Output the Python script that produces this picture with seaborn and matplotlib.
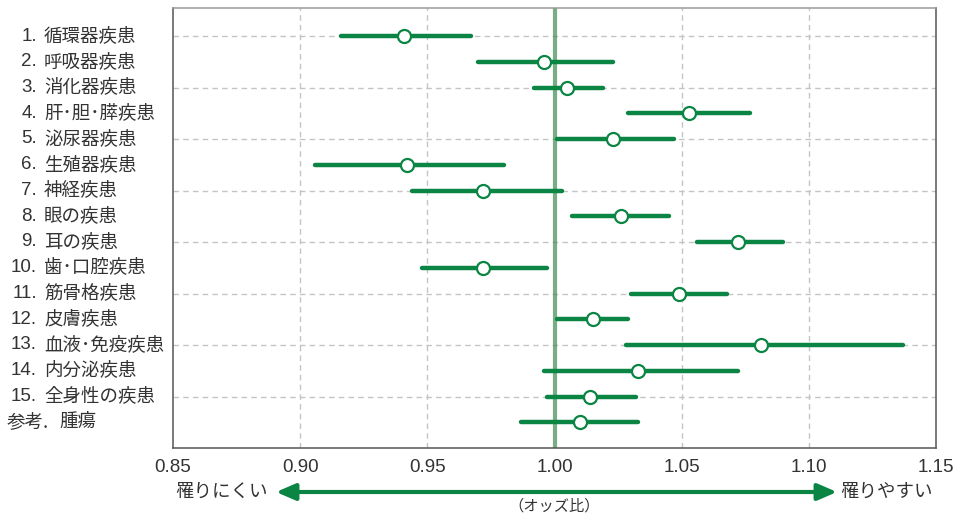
import numpy as np
import pandas as pd
import seaborn as sns
import matplotlib.pyplot as plt

# データ
numbers = ['1.', '2.', '3.', '4.', '5.', '6.', '7.', '8.', '9.', '10.',
           '11.', '12.', '13.', '14.', '15.', '参考.']
diseases = ['循環器疾患', '呼吸器疾患', '消化器疾患', '肝･胆･膵疾患', '泌尿器疾患',
            '生殖器疾患', '神経疾患', '眼の疾患', '耳の疾患', '歯･口腔疾患',
            '筋骨格疾患', '皮膚疾患', '血液･免疫疾患', '内分泌疾患', '全身性の疾患', '腫瘍']
odds_ratio = [0.941, 0.996, 1.005, 1.053, 1.023, 0.942, 0.972, 1.026, 1.072, 0.972,
              1.049, 1.015, 1.081, 1.033, 1.014, 1.010]
ci_low = [0.916, 0.970, 0.992, 1.029, 1.001, 0.906, 0.944, 1.007, 1.056, 0.948,
          1.030, 1.001, 1.028, 0.996, 0.997, 0.987]
ci_high = [0.967, 1.023, 1.019, 1.077, 1.047, 0.980, 1.003, 1.045, 1.090, 0.997,
           1.068, 1.029, 1.137, 1.072, 1.032, 1.033]
xticks = [0.85, 0.90, 0.95, 1.00, 1.05, 1.10, 1.15]

df = pd.DataFrame({'row': np.arange(len(diseases)), 'or': odds_ratio,
                   'lo': ci_low, 'hi': ci_high})

green = '#0b8543'
txt = '#333333'
jp = ['Noto Sans CJK JP', 'DejaVu Sans']
latin = ['Liberation Sans', 'Noto Sans CJK JP']

sns.set_theme(style='white')
plt.rcParams['font.family'] = jp

W, H = 957, 515
fig = plt.figure(figsize=(W / 100, H / 100), dpi=100)
ax = fig.add_axes([173 / W, 1 - 448 / H, (936 - 173) / W, (448 - 8) / H])

# グリッド
for x in xticks[1:-1]:
    if x == 1.00:
        continue
    ax.axvline(x, color='#c4c4c4', lw=1, ls=(0, (4, 3)), zorder=0)
for r in range(0, 16, 2):
    ax.axhline(r, color='#c4c4c4', lw=1, ls=(0, (4, 3)), zorder=0)
ax.axvline(1.0, color='#3f8a52', lw=3, alpha=0.7, zorder=1)

# 信頼区間とオッズ比
ax.hlines(df['row'], df['lo'], df['hi'], color=green, lw=3.2,
          capstyle='round', zorder=2)
sns.scatterplot(data=df, x='or', y='row', ax=ax, s=88, color='white',
                edgecolor=green, linewidth=1.6, zorder=3, legend=False)

ax.set_xlim(0.85, 1.15)
ax.set_ylim(16, -1.09)
ax.set_xticks(xticks)
ax.set_xticklabels([f'{x:.2f}' for x in xticks], fontsize=13.5, color=txt,
                   family=latin)
ax.set_yticks([])
ax.set_xlabel('')
ax.set_ylabel('')
ax.tick_params(axis='x', length=0, pad=8)
for side, sp in ax.spines.items():
    sp.set_color('#555555')
    sp.set_linewidth(1.1)
ax.spines['top'].set_color('#999999')

# 行ラベル
for i, (n, d) in enumerate(zip(numbers, diseases)):
    y = 1 - (36 + 25.73 * i) / H
    if n == '参考.':
        fig.text(7 / W, y, n, ha='left', va='center', fontsize=13.3, color=txt)
        fig.text(59 / W, y, d, ha='left', va='center', fontsize=13.3, color=txt)
    else:
        fig.text(37 / W, y, n, ha='right', va='center', fontsize=13.5, color=txt,
                 family=latin)
        fig.text(44 / W, y, d, ha='left', va='center', fontsize=13.3, color=txt)

# 下部の矢印と注記
ay = 1 - 492 / H
ax.annotate('', xy=(276 / W, ay), xytext=(837 / W, ay), xycoords='figure fraction',
            textcoords='figure fraction',
            arrowprops=dict(arrowstyle='<|-|>,head_length=0.58,head_width=0.25',
                            color=green, lw=3, shrinkA=0, shrinkB=0,
                            mutation_scale=20))
fig.text(268 / W, ay, '罹りにくい', ha='right', va='center', fontsize=13.3, color=txt)
fig.text(840 / W, ay, '罹りやすい', ha='left', va='center', fontsize=13.3, color=txt)
fig.text(554 / W, 1 - 506 / H, '（オッズ比）', ha='center', va='center',
         fontsize=11, color=txt)

fig.savefig('out.png', dpi=100)
